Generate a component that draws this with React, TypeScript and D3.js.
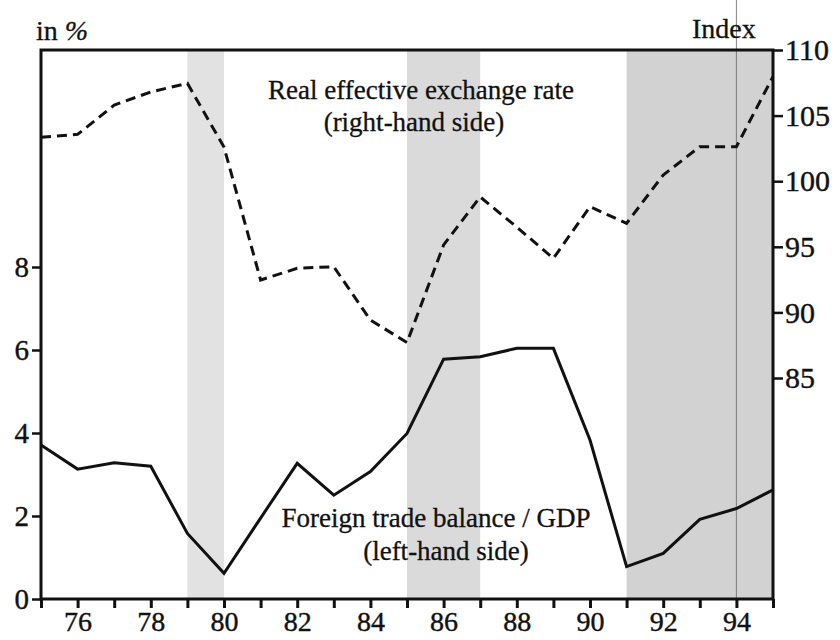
import React, { useRef, useEffect } from 'react';
import * as d3 from 'd3';

// years 1975-1995
const years = [75, 76, 77, 78, 79, 80, 81, 82, 83, 84, 85, 86, 87, 88, 89, 90, 91, 92, 93, 94, 95];

// foreign trade balance / GDP, in % (left axis)
const tradeBalance = [3.71, 3.13, 3.28, 3.2, 1.58, 0.62, 1.95, 3.27, 2.5, 3.07, 3.99, 5.78, 5.84, 6.04, 6.04, 3.83, 0.78, 1.1, 1.92, 2.18, 2.63];

// real effective exchange rate, index (right axis)
const exchangeRate = [103.35, 103.57, 105.8, 106.8, 107.46, 102.6, 92.47, 93.36, 93.48, 89.42, 87.7, 95.14, 98.8, 96.5, 94.12, 98.06, 96.79, 100.47, 102.63, 102.63, 107.97];

// shaded periods
const bandStart = [79, 85, 91];
const bandEnd = [80, 87, 95];

const leftTicks = [0, 2, 4, 6, 8];
const rightTicks = [85, 90, 95, 100, 105, 110];
const xLabelYears = [76, 78, 80, 82, 84, 86, 88, 90, 92, 94];

const FONT = 'Liberation Serif';

export default function App() {
  const svgRef = useRef<SVGSVGElement>(null);

  useEffect(() => {
    const width = 840;
    const height = 640;
    const margin = { top: 50, right: 67, bottom: 41, left: 41 };
    const innerWidth = width - margin.left - margin.right;
    const innerHeight = height - margin.top - margin.bottom;

    const svg = d3.select(svgRef.current);
    svg.selectAll('*').remove();

    const g = svg.append('g').attr('transform', `translate(${margin.left},${margin.top})`);

    const x = d3.scaleLinear().domain([75, 95]).range([0, innerWidth]);
    const yLeft = d3.scaleLinear().domain([0, innerHeight / 41.5]).range([innerHeight, 0]);
    const yRight = d3.scaleLinear().domain([110 - innerHeight / 13.12, 110]).range([innerHeight, 0]);

    // shaded periods
    g.selectAll('.band')
      .data(bandStart.map((s, i) => ({ s, e: bandEnd[i] })))
      .enter()
      .append('rect')
      .attr('x', d => x(d.s))
      .attr('y', 0)
      .attr('width', d => x(d.e) - x(d.s))
      .attr('height', innerHeight)
      .attr('fill', (d, i) => (i === 0 ? '#e2e2e2' : i === 1 ? '#dadada' : '#d2d2d2'));

    // thin vertical rule at 94 (runs up through the header)
    g.append('line')
      .attr('x1', x(94)).attr('x2', x(94))
      .attr('y1', -margin.top).attr('y2', innerHeight)
      .attr('stroke', '#666')
      .attr('stroke-width', 0.8);

    // lines
    const trade = d3.line<number>()
      .x((d, i) => x(years[i]))
      .y(d => yLeft(d));
    const rate = d3.line<number>()
      .x((d, i) => x(years[i]))
      .y(d => yRight(d));

    g.append('path')
      .datum(tradeBalance)
      .attr('d', trade)
      .attr('fill', 'none')
      .attr('stroke', '#111')
      .attr('stroke-width', 3);

    g.append('path')
      .datum(exchangeRate)
      .attr('d', rate)
      .attr('fill', 'none')
      .attr('stroke', '#111')
      .attr('stroke-width', 3)
      .attr('stroke-dasharray', '10,6');

    // frame
    g.append('rect')
      .attr('x', 0).attr('y', 0)
      .attr('width', innerWidth).attr('height', innerHeight)
      .attr('fill', 'none')
      .attr('stroke', '#111')
      .attr('stroke-width', 3);

    // axes
    const xAxis = g.append('g')
      .attr('transform', `translate(0,${innerHeight})`)
      .call(
        d3.axisBottom(x)
          .tickValues(years)
          .tickSize(9)
          .tickPadding(3)
          .tickFormat(d => (xLabelYears.includes(d as number) ? String(d) : ''))
      )
      .attr('font-family', FONT)
      .attr('font-size', 28);
    xAxis.select('.domain').remove();
    xAxis.selectAll('.tick line').attr('stroke', '#111').attr('stroke-width', 3);
    xAxis.selectAll('.tick text').attr('fill', '#111').attr('stroke', '#111').attr('stroke-width', 0.4);

    const leftAxis = g.append('g')
      .call(d3.axisLeft(yLeft).tickValues(leftTicks).tickSize(9).tickPadding(3))
      .attr('font-family', FONT)
      .attr('font-size', 29);
    leftAxis.select('.domain').remove();
    leftAxis.selectAll('.tick line').attr('stroke', '#111').attr('stroke-width', 2.5);
    leftAxis.selectAll('.tick text').attr('fill', '#111').attr('stroke', '#111').attr('stroke-width', 0.4);

    const rightAxis = g.append('g')
      .attr('transform', `translate(${innerWidth},0)`)
      .call(d3.axisRight(yRight).tickValues(rightTicks).tickSize(10).tickPadding(2))
      .attr('font-family', FONT)
      .attr('font-size', 30);
    rightAxis.select('.domain').remove();
    rightAxis.selectAll('.tick line').attr('stroke', '#111').attr('stroke-width', 2.5);
    rightAxis.selectAll('.tick text').attr('fill', '#111').attr('stroke', '#111').attr('stroke-width', 0.4);

    // header labels
    svg.append('text')
      .attr('x', 36).attr('y', 40)
      .attr('fill', '#111')
      .attr('stroke', '#111').attr('stroke-width', 0.3)
      .attr('font-family', FONT)
      .attr('font-size', 28)
      .text('in ')
      .append('tspan')
      .attr('font-style', 'italic')
      .text('%');

    svg.append('text')
      .attr('x', 692).attr('y', 38)
      .attr('fill', '#111')
      .attr('stroke', '#111').attr('stroke-width', 0.3)
      .attr('font-family', FONT)
      .attr('font-size', 28)
      .text('Index');

    // series annotations
    const note = (tx: number, ty: number, s: string) =>
      svg.append('text')
        .attr('x', tx).attr('y', ty)
        .attr('text-anchor', 'middle')
        .attr('fill', '#111')
        .attr('stroke', '#111').attr('stroke-width', 0.3)
        .attr('font-family', FONT)
        .attr('font-size', 27)
        .text(s);

    note(421, 99, 'Real effective exchange rate');
    note(414, 131, '(right-hand side)');
    note(436, 527, 'Foreign trade balance / GDP');
    note(446, 560, '(left-hand side)');
  }, []);

  return (
    <svg
      ref={svgRef}
      width={840}
      height={640}
      style={{ position: 'absolute', left: 0, top: 0, background: '#fff' }}
    />
  );
}
